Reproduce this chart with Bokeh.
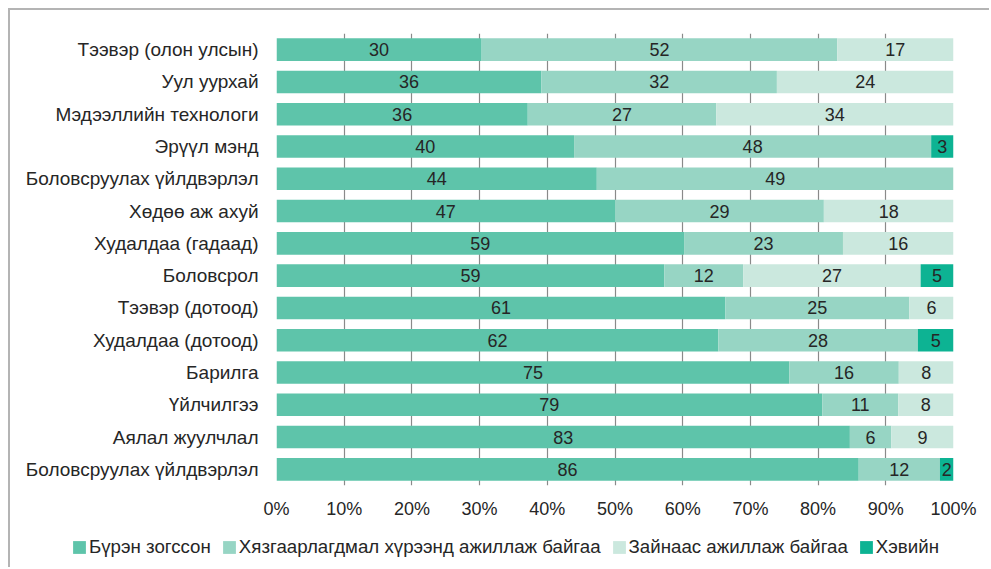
from bokeh.plotting import figure
from bokeh.models import ColumnDataSource, FixedTicker, Range1d, Legend, LegendItem
from bokeh.core.properties import value
from bokeh.embed import file_html
from bokeh.resources import INLINE

categories = ["Тээвэр (олон улсын)", "Уул уурхай", "Мэдээллийн технологи", "Эрүүл мэнд",
              "Боловсруулах үйлдвэрлэл", "Хөдөө аж ахуй", "Худалдаа (гадаад)", "Боловсрол",
              "Тээвэр (дотоод)", "Худалдаа (дотоод)", "Барилга", "Үйлчилгээ",
              "Аялал жуулчлал", "Боловсруулах үйлдвэрлэл"]
full_stop = [30, 36, 36, 40, 44, 47, 59, 59, 61, 62, 75, 79, 83, 86]
limited = [52, 32, 27, 48, 49, 29, 23, 12, 25, 28, 16, 11, 6, 12]
remote = [17, 24, 34, 0, 0, 18, 16, 27, 6, 0, 8, 8, 9, 0]
normal = [0, 0, 0, 3, 0, 0, 0, 5, 0, 5, 0, 0, 0, 2]
series_names = ["Бүрэн зогссон", "Хязгаарлагдмал хүрээнд ажиллаж байгаа",
                "Зайнаас ажиллаж байгаа", "Хэвийн"]
x_ticks = [0, 10, 20, 30, 40, 50, 60, 70, 80, 90, 100]
x_tick_labels = ["0%", "10%", "20%", "30%", "40%", "50%", "60%", "70%", "80%", "90%", "100%"]

colors = ["#5ec4aa", "#97d5c4", "#cbe8de", "#0db393"]
FONT = "Liberation Sans"
TXT = "#262626"
FRAME = "2px solid #b4b4b4"

n = len(categories)
series = [full_stop, limited, remote, normal]
totals = [sum(s[i] for s in series) for i in range(n)]
pct = [[s[i] / totals[i] * 100 for i in range(n)] for s in series]
keys = ["s1", "s2", "s3", "s4"]

data = {"y": list(range(n))}
for k, col in zip(keys, pct):
    data[k] = col
source = ColumnDataSource(data)

# label positions
lx, ly, lt = [], [], []
for i in range(n):
    left = 0.0
    for s, pc in zip(series, pct):
        w = pc[i]
        if s[i] > 0:
            lx.append(left + w / 2)
            ly.append(i)
            lt.append(str(s[i]))
        left += w
lsrc = ColumnDataSource(dict(x=lx, y=ly, t=lt))

p = figure(width=981, height=520, x_range=Range1d(0, 100), y_range=Range1d(13.5, -0.5),
           output_backend="svg", toolbar_location=None,
           min_border_left=266, min_border_right=38, min_border_top=23, min_border_bottom=45)
p.styles = {"margin-top": "8px", "margin-left": "8px", "border-top": FRAME, "border-left": FRAME}
p.outline_line_color = None
p.background_fill_color = "white"
p.border_fill_color = "white"

rs = p.hbar_stack(keys, y="y", height=0.7, fill_color=colors, line_color=None, source=source)

p.text(x="x", y="y", text="t", source=lsrc, text_align="center", text_baseline="middle",
       text_font=value(FONT), text_font_size="18px", text_color=TXT)

# axes
p.yaxis.ticker = FixedTicker(ticks=list(range(n)))
p.yaxis.major_label_overrides = {i: c for i, c in enumerate(categories)}
p.xaxis.ticker = FixedTicker(ticks=x_ticks)
p.xaxis.major_label_overrides = {t: l for t, l in zip(x_ticks, x_tick_labels)}
for ax in (p.xaxis, p.yaxis):
    ax.axis_line_color = None
    ax.major_tick_line_color = None
    ax.minor_tick_line_color = None
    ax.major_tick_out = 0
    ax.major_tick_in = 0
    ax.major_label_text_font = FONT
    ax.major_label_text_font_size = "18px"
    ax.major_label_text_color = TXT
p.yaxis.major_label_text_font_size = "19px"
p.yaxis.major_label_standoff = 18
p.xaxis.major_label_standoff = 13

p.ygrid.grid_line_color = None
p.xgrid.ticker = FixedTicker(ticks=x_ticks)
p.xgrid.grid_line_color = "#8a8a8a"
p.xgrid.grid_line_width = 1.2

# legend strip below the chart (separate root so its frame spans the full width)
p2 = figure(width=981, height=39, x_range=Range1d(0, 1), y_range=Range1d(0, 1),
            output_backend="svg", toolbar_location=None,
            x_axis_type=None, y_axis_type=None,
            min_border_left=0, min_border_right=0, min_border_top=0, min_border_bottom=0)
p2.styles = {"margin-left": "8px", "border-left": FRAME}
p2.outline_line_color = None
p2.grid.grid_line_color = None
p2.background_fill_color = "white"
p2.border_fill_color = "white"
dummies = [p2.hbar(y=[-5], left=[0], right=[1], height=0.5, fill_color=c, line_color=None)
           for c in colors]

legend = Legend(items=[LegendItem(label=nm, renderers=[r]) for nm, r in zip(series_names, dummies)],
                orientation="horizontal", location=(61, 9),
                glyph_width=16, glyph_height=16, label_standoff=2, spacing=10,
                padding=0, margin=0, border_line_color=None, background_fill_alpha=0,
                label_height=20,
                label_text_font=FONT, label_text_font_size="18.7px", label_text_color=TXT)
p2.add_layout(legend, "center")

open("out.html", "w").write(file_html([p, p2], INLINE))
